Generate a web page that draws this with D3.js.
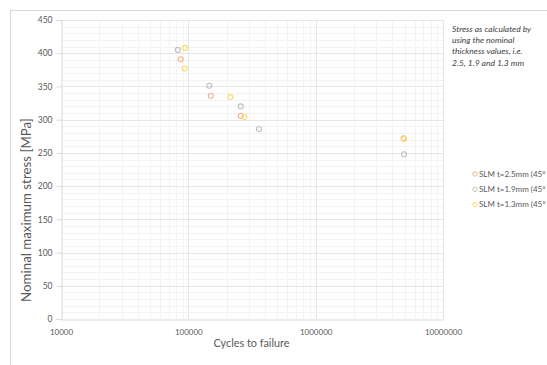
<!DOCTYPE html>
<html>
<head>
<meta charset="utf-8">
<script src="https://cdn.jsdelivr.net/npm/d3@7"></script>
<style>
  html, body { margin: 0; padding: 0; background: #fff; }
  svg { display: block; }
  text { font-family: Lato, "Open Sans", sans-serif; }
</style>
</head>
<body>
<svg id="chart" width="547" height="365"></svg>
<script>
// S-N data: cycles to failure vs nominal maximum stress, per SLM thickness
const seriesNames = ["SLM t=2.5mm (45°", "SLM t=1.9mm (45°", "SLM t=1.3mm (45°"];
const seriesColors = ["#f4b183", "#bfbfbf", "#ffd966"];

const cycles25 = [87000, 150000, 258000, 4900000];
const stress25 = [391, 336, 306, 272];

const cycles19 = [82600, 146000, 258000, 359000, 4940000];
const stress19 = [405, 351, 320, 286, 248];

const cycles13 = [94200, 93700, 213800, 275000, 4940000];
const stress13 = [408, 377, 334, 304, 271];

const xTicks = [10000, 100000, 1000000, 10000000];
const yTicks = [0, 50, 100, 150, 200, 250, 300, 350, 400, 450];

const noteLines = ["Stress as calculated by", "using the nominal", "thickness values, i.e.", "2.5, 1.9 and 1.3 mm"];

const series = [
  { name: seriesNames[0], color: seriesColors[0], n: cycles25, s: stress25 },
  { name: seriesNames[1], color: seriesColors[1], n: cycles19, s: stress19 },
  { name: seriesNames[2], color: seriesColors[2], n: cycles13, s: stress13 }
];

const svg = d3.select("#chart");

// shrink a text's font until it spans the wanted length
function fitText(sel, target, start) {
  let fs = start;
  sel.style("font-size", fs + "px");
  const node = sel.node();
  const w = node.getComputedTextLength();
  if (w > 0) {
    fs = fs * target / w;
    sel.style("font-size", fs.toFixed(2) + "px");
  }
}

// outer chart frame
svg.append("path")
  .attr("d", "M10.5,365 V10.5 H547")
  .attr("fill", "none")
  .attr("stroke", "#d9d9d9");

const plot = { left: 61, right: 443, top: 20, bottom: 319 };

const x = d3.scaleLog().domain([1e4, 1e7]).range([plot.left, plot.right]);
const y = d3.scaleLinear().domain([0, 450]).range([plot.bottom, plot.top]);

const grid = svg.append("g");

// minor horizontal grid every 10 MPa
grid.selectAll("line.hmin")
  .data(d3.range(10, 451, 10).filter(v => v % 50 !== 0))
  .join("line")
  .attr("x1", plot.left).attr("x2", plot.right)
  .attr("y1", d => Math.round(y(d)) + 0.5).attr("y2", d => Math.round(y(d)) + 0.5)
  .attr("stroke", "#f3f3f3");

// minor vertical grid at 2..9 within each decade
const minorX = [];
[1e4, 1e5, 1e6].forEach(dec => { for (let k = 2; k <= 9; k++) minorX.push(dec * k); });
grid.selectAll("line.vmin")
  .data(minorX)
  .join("line")
  .attr("x1", d => Math.round(x(d)) + 0.5).attr("x2", d => Math.round(x(d)) + 0.5)
  .attr("y1", plot.top).attr("y2", plot.bottom)
  .attr("stroke", "#f3f3f3");

// major horizontal grid
grid.selectAll("line.hmaj")
  .data(yTicks.filter(v => v > 0))
  .join("line")
  .attr("x1", plot.left).attr("x2", plot.right)
  .attr("y1", d => Math.round(y(d)) + 0.5).attr("y2", d => Math.round(y(d)) + 0.5)
  .attr("stroke", "#e6e6e6");

// major vertical grid
grid.selectAll("line.vmaj")
  .data(xTicks.slice(1))
  .join("line")
  .attr("x1", d => Math.round(x(d)) + 0.5).attr("x2", d => Math.round(x(d)) + 0.5)
  .attr("y1", plot.top).attr("y2", plot.bottom)
  .attr("stroke", "#e6e6e6");

// y axis
const yAxis = svg.append("g")
  .attr("transform", `translate(${plot.left + 0.5},0)`)
  .call(d3.axisLeft(y).tickValues(yTicks).tickSize(5).tickPadding(4).tickFormat(d3.format("d")));
yAxis.select(".domain").attr("stroke", "#d9d9d9");
yAxis.selectAll(".tick line").attr("stroke", "#d9d9d9");
yAxis.selectAll(".tick text").attr("fill", "#595959").style("font-size", "8.5px").attr("font-family", "Lato, sans-serif");

// x axis
const xAxis = svg.append("g")
  .attr("transform", `translate(0,${plot.bottom + 0.5})`)
  .call(d3.axisBottom(x).tickValues(xTicks).tickSize(0).tickPadding(10).tickFormat(d3.format("d")));
xAxis.select(".domain").attr("stroke", "#d9d9d9");
xAxis.selectAll(".tick text").attr("fill", "#595959").style("font-size", "8px").attr("font-family", "Lato, sans-serif");

// axis titles
const xTitle = svg.append("text")
  .attr("x", 251.5)
  .attr("y", 347)
  .attr("text-anchor", "middle")
  .attr("fill", "#595959")
  .text("Cycles to failure");
fitText(xTitle, 76, 12);

const yTitle = svg.append("text")
  .attr("transform", "translate(31,210) rotate(-90)")
  .attr("text-anchor", "middle")
  .attr("fill", "#595959")
  .text("Nominal maximum stress [MPa]");
fitText(yTitle, 184, 12);

// markers
const marks = svg.append("g");
series.forEach(sr => {
  marks.append("g").selectAll("circle")
    .data(sr.n.map((n, i) => ({ n, s: sr.s[i] })))
    .join("circle")
    .attr("cx", d => x(d.n))
    .attr("cy", d => y(d.s))
    .attr("r", 2.5)
    .attr("fill", "none")
    .attr("stroke", sr.color)
    .attr("stroke-width", 1.1);
});

// annotation
svg.append("text")
  .attr("x", 452)
  .attr("y", 32)
  .attr("fill", "#404040")
  .style("font-size", "8.5px")
  .style("font-style", "italic")
  .selectAll("tspan")
  .data(noteLines)
  .join("tspan")
  .attr("x", 452)
  .attr("dy", (d, i) => i === 0 ? 0 : 11.2)
  .text(d => d);

// legend
const legend = svg.append("g");
const lg = legend.selectAll("g")
  .data(series)
  .join("g")
  .attr("transform", (d, i) => `translate(475,${174 + i * 15.3})`);
lg.append("circle")
  .attr("r", 2.2)
  .attr("fill", "none")
  .attr("stroke", d => d.color)
  .attr("stroke-width", 1);
lg.append("text")
  .attr("x", 4)
  .attr("dy", "0.35em")
  .attr("fill", "#595959")
  .style("font-size", "8px")
  .text(d => d.name)
  .each(function () {
    // keep each entry inside the right edge
    const w = this.getComputedTextLength();
    const room = 547 - 479 - 1;
    if (w > room) d3.select(this).style("font-size", (8 * room / w).toFixed(2) + "px");
  });
</script>
</body>
</html>
